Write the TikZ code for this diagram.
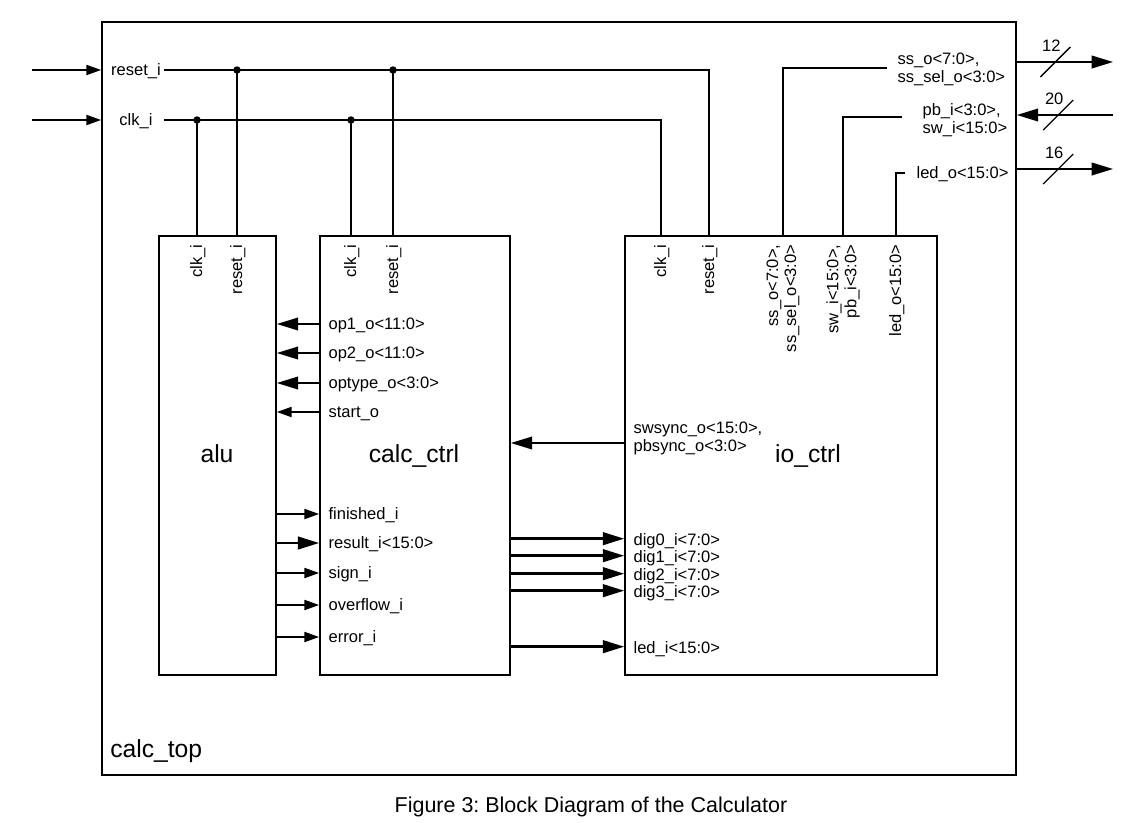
\documentclass[tikz,border=0pt]{standalone}
\usepackage{fontspec}
\setmainfont{Liberation Sans}
\usetikzlibrary{arrows.meta, positioning}
\frenchspacing

\begin{document}
\begin{tikzpicture}[
  x=0.75pt, y=-0.75pt,
  block/.style={draw, line width=1.3pt, minimum height=329.25pt, inner sep=0pt},
  wire/.style={line width=1.3pt},
  arrow/.style={wire, -{Triangle[length=11pt, width=7.5pt]}},
  busarrow/.style={line width=1.8pt, -{Triangle[length=16pt, width=9.5pt]}},
  port/.style={font=\fontsize{12.4}{13.5}\selectfont, inner sep=1pt, text height=7.6pt, text depth=0pt},
  portml/.style={font=\fontsize{12.4}{13.5}\selectfont, inner sep=1pt, align=left},
  pinlabel/.style={port, rotate=90, anchor=east},
  pinml/.style={portml, align=right, rotate=90, anchor=east},
  title/.style={font=\fontsize{18.5}{20}\selectfont, inner sep=0pt, anchor=base},
  dot/.style={circle, fill, inner sep=0pt, minimum size=5.6pt},
]
\useasboundingbox (0,0) rectangle (1131,822);

% Blocks
\node[block, minimum width=685.5pt, minimum height=564.75pt] (top) at (559,398.5) {};
\node[block, minimum width=87.75pt] (alu) at (217.5,455.5) {};
\node[block, minimum width=142.5pt] (ctrl) at (415,455.5) {};
\node[block, minimum width=234pt] (io) at (781,455.5) {};

\node[title] (alu_t) at (217,462) {alu};
\node[title] (ctrl_t) at (414,462) {calc\_ctrl};
\node[title] (io_t) at (808,462) {io\_ctrl};
\node[title, anchor=base west] (top_t) at (110,757) {calc\_top};

% Top level inputs
\node[port, minimum width=42pt] (rst) at (136,70) {reset\_i};
\node[port, minimum width=42pt] (clk) at (136,120) {clk\_i};
\coordinate (rst_in) at (32,70);
\coordinate (clk_in) at (32,120);
\draw[arrow] (rst_in) -- (rst_in -| top.west);
\draw[arrow] (clk_in) -- (clk_in -| top.west);

% Clock and reset pins
\node[pinlabel] (alu_clk) at (197,243) {clk\_i};
\node[pinlabel] (alu_rst) at (237,243) {reset\_i};
\node[pinlabel] (ctrl_clk) at (351,243) {clk\_i};
\node[pinlabel] (ctrl_rst) at (393,243) {reset\_i};
\node[pinlabel] (io_clk) at (661,243) {clk\_i};
\node[pinlabel] (io_rst) at (709,243) {reset\_i};

\draw[wire] (rst.east) -| (io_rst.east |- io.north);
\draw[wire] (clk.east) -| (io_clk.east |- io.north);
\node[dot] (rst_a) at (rst.east -| alu_rst.east) {};
\node[dot] (rst_c) at (rst.east -| ctrl_rst.east) {};
\node[dot] (clk_a) at (clk.east -| alu_clk.east) {};
\node[dot] (clk_c) at (clk.east -| ctrl_clk.east) {};
\draw[wire] (rst_a.center) -- (rst_a |- alu.north);
\draw[wire] (rst_c.center) -- (rst_c |- ctrl.north);
\draw[wire] (clk_a.center) -- (clk_a |- alu.north);
\draw[wire] (clk_c.center) -- (clk_c |- ctrl.north);

% io_ctrl top pins
\node[pinml] (io_ss) at (783,243) {ss\_o<7:0>,\\ss\_sel\_o<3:0>};
\node[pinml] (io_sw) at (843,243) {sw\_i<15:0>,\\pb\_i<3:0>};
\node[pinlabel] (io_led) at (896,243) {led\_o<15:0>};

\node[portml, anchor=west] (ss_l) at (896,69) {ss\_o<7:0>,\\ss\_sel\_o<3:0>};
\node[portml, anchor=west] (pb_l) at (921,120) {pb\_i<3:0>,\\sw\_i<15:0>};
\node[port, anchor=west] (led_l) at (915,173) {led\_o<15:0>};
\coordinate (ss_end) at (887,68);
\coordinate (pb_end) at (902,117);
\coordinate (led_end) at (905,173);
\draw[wire] (ss_end) -| (io_ss.east |- io.north);
\draw[wire] (pb_end) -| (io_sw.east |- io.north);
\draw[wire] (led_end) -| (io_led.east |- io.north);

% Top level outputs
\coordinate (ss_out) at (1113,62);
\coordinate (pb_in) at (1113,115);
\coordinate (led_out) at (1113,169);
\draw[busarrow, line width=1.3pt] (ss_out -| top.east) -- coordinate[pos=0.4] (ss_m) (ss_out);
\draw[busarrow, line width=1.3pt] (pb_in) -- coordinate[pos=0.57] (pb_m) (pb_in -| top.east);
\draw[busarrow, line width=1.3pt] (led_out -| top.east) -- coordinate[pos=0.43] (led_m) (led_out);
\foreach \m/\w in {ss_m/12, pb_m/20, led_m/16} {
  \draw[line width=1pt] ([shift={(-15,15)}]\m) -- ([shift={(15,-15)}]\m);
  \node[port] at ([shift={(-4,-16)}]\m) {\w};
}

% calc_ctrl -> alu
\node[port, anchor=west] (op1) at (327,324) {op1\_o<11:0>};
\node[port, anchor=west] (op2) at (327,353) {op2\_o<11:0>};
\node[port, anchor=west] (optype) at (327,383) {optype\_o<3:0>};
\node[port, anchor=west] (start) at (327,412) {start\_o};
\draw[busarrow, line width=1.3pt] (op1 -| ctrl.west) -- (op1 -| alu.east);
\draw[busarrow, line width=1.3pt] (op2 -| ctrl.west) -- (op2 -| alu.east);
\draw[busarrow, line width=1.3pt] (optype -| ctrl.west) -- (optype -| alu.east);
\draw[arrow] (start -| ctrl.west) -- (start -| alu.east);

% alu -> calc_ctrl
\node[port, anchor=west] (finished) at (327,514) {finished\_i};
\node[port, anchor=west] (result) at (327,543) {result\_i<15:0>};
\node[port, anchor=west] (sign) at (327,573) {sign\_i};
\node[port, anchor=west] (overflow) at (327,605) {overflow\_i};
\node[port, anchor=west] (error) at (327,637) {error\_i};
\draw[arrow] (finished -| alu.east) -- (finished -| ctrl.west);
\draw[busarrow] (result -| alu.east) -- (result -| ctrl.west);
\draw[arrow] (sign -| alu.east) -- (sign -| ctrl.west);
\draw[arrow] (overflow -| alu.east) -- (overflow -| ctrl.west);
\draw[arrow] (error -| alu.east) -- (error -| ctrl.west);

% io_ctrl -> calc_ctrl
\node[portml, anchor=west] (sync) at (632,438) {swsync\_o<15:0>,\\pbsync\_o<3:0>};
\coordinate (sync_y) at (0,443);
\draw[busarrow, line width=1.3pt] (sync_y -| io.west) -- (sync_y -| ctrl.east);

% calc_ctrl -> io_ctrl
\node[port, anchor=west] (dig0) at (632,540) {dig0\_i<7:0>};
\node[port, anchor=west] (dig1) at (632,557) {dig1\_i<7:0>};
\node[port, anchor=west] (dig2) at (632,575) {dig2\_i<7:0>};
\node[port, anchor=west] (dig3) at (632,592) {dig3\_i<7:0>};
\node[port, anchor=west] (led) at (632,648) {led\_i<15:0>};
\foreach \p in {dig0, dig1, dig2, dig3, led}
  \draw[busarrow] ([yshift=1pt]\p.west -| ctrl.east) -- ([yshift=1pt]\p.west -| io.west);

% Caption
\node[font=\fontsize{16.1}{18}\selectfont, anchor=base] (caption) at (591,812) {Figure 3: Block Diagram of the Calculator};

\end{tikzpicture}
\end{document}
